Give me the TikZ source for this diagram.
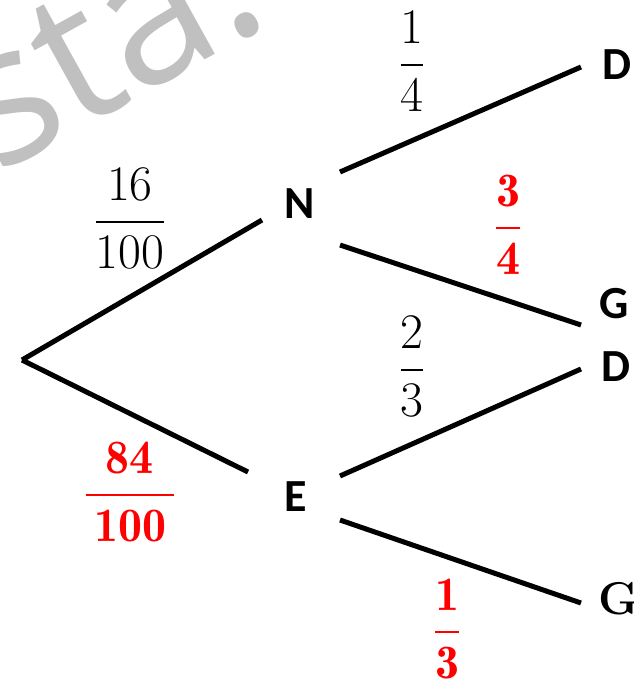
\documentclass[tikz,border=0pt]{standalone}
\usepackage{amsmath}
\usepackage{fontspec}
\newfontfamily\labfont{Carlito}
\newfontfamily\wmfont{Open Sans}
\definecolor{wmgray}{RGB}{192,192,192}
\definecolor{fracred}{RGB}{255,0,0}
\newcommand{\bfracwide}[2]{$\dfrac{\,\mathbf{#1}\,}{\,\mathbf{#2}\,}$}
\newcommand{\bfracnarrow}[2]{$\dfrac{\mathbf{#1}}{\mathbf{#2}}$}
\tikzset{
  branch/.style={line width=2.5pt},
  fracnode/.style={font=\fontsize{24}{28}\selectfont, anchor=base, inner sep=0pt},
  redfrac/.style={fracnode, text=fracred},
  letter/.style={font=\labfont\bfseries\fontsize{23}{26}\selectfont, anchor=base, inner sep=0pt},
  serifletter/.style={font=\bfseries\fontsize{23}{26}\selectfont, anchor=base, inner sep=0pt},
  watermark/.style={font=\wmfont\fontsize{96}{110}\selectfont, text=wmgray, anchor=base west, inner sep=0pt, rotate=29}
}
\begin{document}
\begin{tikzpicture}[x=0.5pt,y=-0.5pt]
\useasboundingbox (0,0) rectangle (633,681);
\begin{scope}
\clip (0,0) rectangle (633,681);
\node[watermark] (wm) at (-4,176) {sta.};
\end{scope}
% tree points
\coordinate (R) at (22,360);
\coordinate (Nin) at (262,220);
\coordinate (Ein) at (248,472);
\coordinate (Nup) at (340,172);
\coordinate (Ndn) at (340,245);
\coordinate (Eup) at (340,476);
\coordinate (Edn) at (340,520);
\coordinate (D1in) at (581,67);
\coordinate (G1in) at (581,325);
\coordinate (D2in) at (581,369);
\coordinate (G2in) at (581,603);
% outcome labels
\node[letter] (N) at (300,218) {N};
\node[letter] (E) at (296,511) {E};
\node[letter] (D1) at (617,79) {D};
\node[letter] (G1) at (614,318) {G};
\node[letter] (D2) at (616,381) {D};
\node[serifletter] (G2) at (619,614) {G};
% branches
\draw[branch] (R) -- (Nin);
\draw[branch] (R) -- (Ein);
\draw[branch] (Nup) -- (D1in);
\draw[branch] (Ndn) -- (G1in);
\draw[branch] (Eup) -- (D2in);
\draw[branch] (Edn) -- (G2in);
% probabilities
\node[fracnode] (p1) at (130,234) {$\dfrac{16}{100}$};
\node[redfrac] (p2) at (130,507) {\bfracwide{84}{100}};
\node[fracnode] (p3) at (412,77) {$\dfrac{1}{4}$};
\node[redfrac] (p4) at (508,240) {\bfracnarrow{3}{4}};
\node[fracnode] (p5) at (412,382) {$\dfrac{2}{3}$};
\node[redfrac] (p6) at (447,644) {\bfracnarrow{1}{3}};
\end{tikzpicture}
\end{document}
